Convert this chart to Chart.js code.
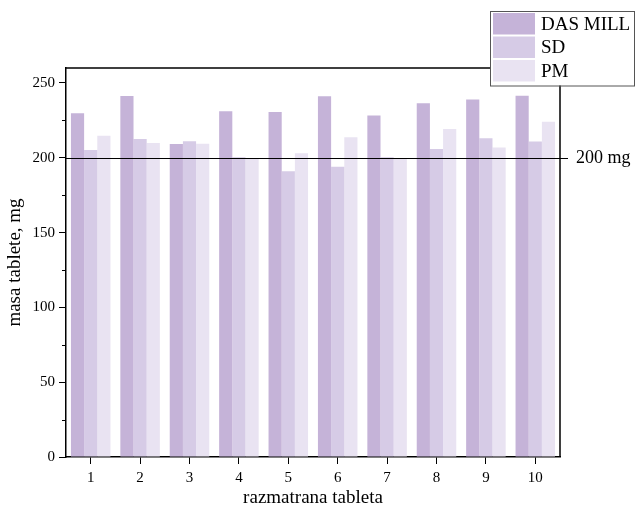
<!DOCTYPE html>
<html>
<head>
<meta charset="utf-8">
<script src="https://cdn.jsdelivr.net/npm/chart.js@4"></script>
<style>
  html, body { margin: 0; padding: 0; background: #fff; }
  #wrap { width: 635px; height: 514px; }
</style>
</head>
<body>
<div id="wrap"><canvas id="grafik"></canvas></div>
<script>
// podaci ocitani sa slike
const tablete = ['1', '2', '3', '4', '5', '6', '7', '8', '9', '10'];
const dasMill = [229.7, 241.3, 209.2, 231.1, 230.6, 241.1, 228.2, 236.4, 238.9, 241.5];
const sd = [205.2, 212.6, 211.0, 200.3, 191.0, 194.0, 200.3, 205.9, 213.0, 210.8];
const pm = [214.8, 209.9, 209.4, 199.7, 203.0, 213.7, 199.2, 219.3, 206.8, 224.1];
const yTicks = [0, 50, 100, 150, 200, 250];
const granica = 200;

const FONT = "'Liberation Serif', 'Times New Roman', serif";

// okvir, sporedne podeoke, linija 200 mg i legenda
const dodaci = {
  id: 'dodaci',
  afterDraw(chart) {
    const c = chart.ctx;
    const a = chart.chartArea;
    const y = chart.scales.y;
    c.save();
    c.strokeStyle = '#000';
    c.lineWidth = 1.5;
    c.beginPath();
    c.moveTo(a.left, a.top);
    c.lineTo(a.right, a.top);
    c.lineTo(a.right, a.bottom);
    c.stroke();

    // sporedne podeoke
    c.lineWidth = 1;
    for (let v = 25; v < 260; v += 50) {
      const py = Math.round(y.getPixelForValue(v)) + 0.5;
      c.beginPath();
      c.moveTo(a.left - 4, py);
      c.lineTo(a.left, py);
      c.stroke();
    }

    // linija 200 mg
    const gy = Math.round(y.getPixelForValue(granica)) + 0.5;
    c.beginPath();
    c.moveTo(a.left, gy);
    c.lineTo(a.right + 8, gy);
    c.stroke();
    c.fillStyle = '#000';
    c.font = '18px ' + FONT;
    c.textBaseline = 'middle';
    c.textAlign = 'left';
    c.fillText('200 mg', a.right + 16, gy);

    // legenda
    const lx = 490, ly = 11, lw = 144, rowH = 23.5;
    c.fillStyle = '#fff';
    c.fillRect(lx, ly, lw, rowH * 3 + 4);
    c.strokeStyle = '#555';
    c.lineWidth = 1;
    c.strokeRect(lx + 0.5, ly + 0.5, lw, rowH * 3 + 4);
    chart.data.datasets.forEach((ds, i) => {
      const ry = ly + 2 + i * rowH;
      c.fillStyle = ds.backgroundColor;
      c.fillRect(lx + 3, ry, 42, rowH - 2);
      c.fillStyle = '#000';
      c.font = '19px ' + FONT;
      c.fillText(ds.label, lx + 51, ry + rowH / 2);
    });
    c.restore();
  }
};

new Chart(document.getElementById('grafik'), {
  type: 'bar',
  data: {
    labels: tablete,
    datasets: [
      { label: 'DAS MILL', data: dasMill, backgroundColor: '#c5b3d8' },
      { label: 'SD', data: sd, backgroundColor: '#d6cbe6' },
      { label: 'PM', data: pm, backgroundColor: '#e9e3f2' }
    ]
  },
  options: {
    responsive: true,
    maintainAspectRatio: false,
    animation: false,
    datasets: { bar: { categoryPercentage: 0.8, barPercentage: 1.0 } },
    layout: { padding: { top: 68, right: 75, left: 0, bottom: 0 } },
    plugins: { legend: { display: false }, tooltip: { enabled: false } },
    scales: {
      x: {
        offset: true,
        afterFit: s => { s.height = 57; },
        grid: { offset: false, drawOnChartArea: false, drawTicks: true, tickLength: 7, color: '#000', lineWidth: 1 },
        border: { display: true, color: '#000', width: 1.5 },
        ticks: { color: '#000', font: { family: FONT, size: 15 }, padding: 5, maxRotation: 0 },
        title: { display: true, text: 'razmatrana tableta', color: '#000', font: { family: FONT, size: 19 }, padding: { top: 0, bottom: 5 } }
      },
      y: {
        min: 0,
        max: 260,
        afterFit: s => { s.width = 66; },
        afterBuildTicks: s => { s.ticks = yTicks.map(v => ({ value: v })); },
        grid: { drawOnChartArea: false, drawTicks: true, tickLength: 7, color: '#000', lineWidth: 1 },
        border: { display: true, color: '#000', width: 1.5 },
        ticks: { color: '#000', font: { family: FONT, size: 15 }, padding: 4 },
        title: { display: true, text: 'masa tablete, mg', color: '#000', font: { family: FONT, size: 19 }, padding: { top: 4, bottom: 0 } }
      }
    }
  },
  plugins: [dodaci]
});
</script>
</body>
</html>
